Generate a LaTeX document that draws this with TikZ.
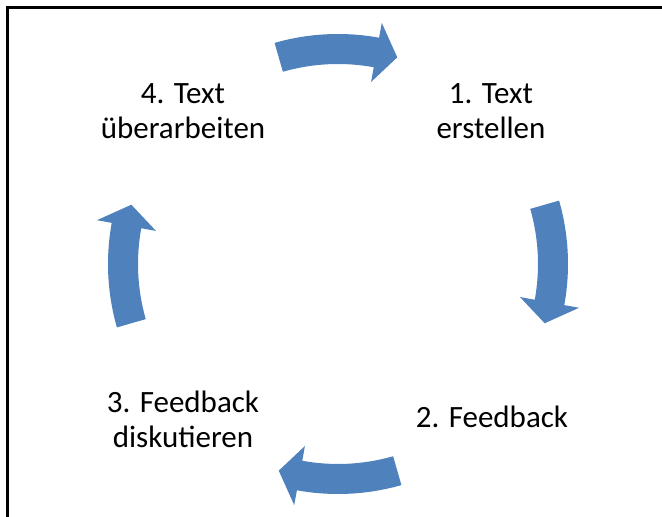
\documentclass[tikz,border=0pt]{standalone}
\usepackage{fontspec}
\setmainfont{Carlito}
\definecolor{arrowblue}{HTML}{4F81BD}
\tikzset{
  lbl/.style={align=center, font=\fontsize{31}{35}\selectfont, inner sep=0pt, text=black},
  cyclearrow/.style={fill=arrowblue, draw=none}
}
\newcommand{\cyclearr}[1]{%
  \fill[cyclearrow] (#1+16:230pt) arc[start angle=#1+16, end angle=#1-10.3, radius=230pt]
    -- (#1-10.3:245pt) -- (#1-16:215pt) -- (#1-10.3:185pt) -- (#1-10.3:200pt)
    arc[start angle=#1-10.3, end angle=#1+16, radius=200pt] -- cycle;}
\begin{document}
\begin{tikzpicture}[x=1pt,y=1pt]
\useasboundingbox (0,0) rectangle (662,517);
\fill[white] (0,0) rectangle (662,517);
\draw[line width=2.6pt, black] (7.3,-2) -- (7.3,509.7) -- (664,509.7);
\coordinate (C) at (338,253);
\begin{scope}[shift={(C)}]
  \cyclearr{90}
  \cyclearr{0}
  \cyclearr{-90}
  \cyclearr{180}
\end{scope}
\node[lbl] (t1) at (491,406) {1. Text\\erstellen};
\node[lbl] (t2) at (492,100) {2. Feedback};
\node[lbl] (t3) at (183,98) {3. Feedback\\diskutieren};
\node[lbl] (t4) at (183,406) {4. Text\\überarbeiten};
\end{tikzpicture}
\end{document}
